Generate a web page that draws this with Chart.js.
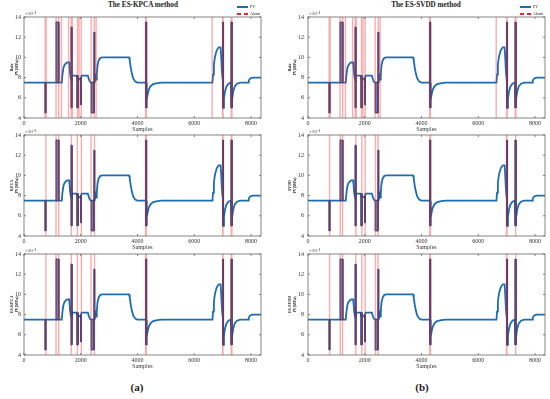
<!DOCTYPE html>
<html>
<head>
<meta charset="utf-8">
<script src="https://cdn.jsdelivr.net/npm/chart.js@4.4.0/dist/chart.umd.min.js"></script>
<style>
  body { margin: 0; background: #fff; }
  #fig { position: relative; width: 550px; height: 399px; overflow: hidden; font-family: "Liberation Serif", serif; color: #222; }
  canvas { position: absolute; }
  .ttl { position: absolute; top: 0; font-size: 7.2px; line-height: 11px; font-weight: bold; transform: translateX(-50%); white-space: nowrap; }
  .sub { position: absolute; top: 380px; font-size: 11px; line-height: 14px; font-weight: bold; transform: translateX(-50%); }
  .lt { position: absolute; font-size: 4px; line-height: 4px; white-space: nowrap; }
  .mk { position: absolute; }
</style>
</head>
<body>
<div id="fig">
  <div class="ttl" style="left:143px">The ES-KPCA method</div>
  <div class="ttl" style="left:426px">The ES-SVDD method</div>
  <div class="sub" style="left:137px">(a)</div>
  <div class="sub" style="left:422px">(b)</div>
</div>
<script>
// PV signal (units of 10^-1 MPa)
const pvX = [0, 1330, 1355, 1385, 1420, 1470, 1520, 1590, 1605, 1625, 1650, 1675, 1700, 1850, 1870, 1920, 1990, 2030,
  2250, 2280, 2320, 2370, 2480, 2520, 2545, 2565, 2590, 2630, 2690, 2760, 3700, 3725, 3760, 3800, 3850, 3920, 3990,
  4300, 4310, 4330, 4360, 4400, 4460, 4550, 4700, 4850, 6640, 6660, 6690, 6730, 6790, 6860, 6925, 6945, 6965, 6990,
  7005, 7020, 7045, 7080, 7130, 7200, 7290, 7310, 7335, 7370, 7420, 7500, 7620, 7900, 7920, 7950, 8000, 8060, 8350];
const pvY = [7.5, 7.5, 8.3, 8.9, 9.2, 9.4, 9.5, 9.5, 9.1, 8.4, 7.9, 7.7, 8.2, 8.2, 7.9, 7.9, 7.8, 8.2,
  8.2, 7.9, 7.6, 7.5, 7.5, 8.1, 7.8, 8.3, 9.2, 9.7, 9.95, 10, 10, 9.7, 9.0, 8.4, 7.9, 7.6, 7.5,
  7.5, 5.0, 5.8, 6.4, 6.85, 7.15, 7.35, 7.45, 7.5, 7.5, 8.3, 9.3, 10.1, 10.7, 11, 11, 10.2, 9.0, 8.0,
  7.8, 5.0, 5.9, 6.6, 7.1, 7.4, 7.5, 5.0, 5.9, 6.6, 7.1, 7.4, 7.5, 7.5, 7.7, 7.85, 7.95, 8, 8];

// fast oscillation bands
const bandX0 = [735, 1128, 1655, 1860, 1995, 2365, 2460, 4280, 6995, 7290];
const bandX1 = [770, 1228, 1690, 1905, 2025, 2470, 2490, 4320, 7030, 7330];
const bandLo = [4.5, 7.5, 5.0, 5.0, 5.3, 4.5, 7.5, 5.0, 5.0, 5.0];
const bandHi = [7.5, 13.5, 13.0, 8.2, 8.0, 7.5, 12.5, 13.5, 13.5, 13.5];

// alarm positions (samples)
const ruleAlarms = [745, 780, 1128, 1222, 1320, 1570, 1662, 1700, 1885, 1940, 2015, 2365, 2475, 2540, 4285, 4310, 6630, 6995, 7015, 7300, 7325];
const kpcaAlarms = [770, 1128, 1222, 1668, 1880, 2021, 2362, 2485, 4285, 4310, 6998, 7012, 7300, 7325];
const svddAlarms = [761, 1136, 1218, 1686, 1897, 2014, 2377, 2470, 4290, 4315, 6990, 7010, 7318];

// axes
const xTicks = [0, 2000, 4000, 6000, 8000];
const yTicks = [4, 6, 8, 10, 12, 14];
const yMin = 4, yMax = 14, xMax = 8350;

const cols = [
  { left: 0, padLeft: 10, axisW: 14, tickPad: 3, padRight: 14, leg: 237 },
  { left: 275, padLeft: 13, axisW: 20, tickPad: 4, padRight: 5, leg: 520 }
];
const rowTops = [17, 135, 254];
const panels = [
  { col: 0, row: 0, name: "Rule", alarms: ruleAlarms },
  { col: 0, row: 1, name: "KPCA", alarms: kpcaAlarms },
  { col: 0, row: 2, name: "ES-KPCA", alarms: kpcaAlarms },
  { col: 1, row: 0, name: "Rule", alarms: ruleAlarms },
  { col: 1, row: 1, name: "SVDD", alarms: svddAlarms },
  { col: 1, row: 2, name: "ES-SVDD", alarms: svddAlarms }
];

const FONT = "Liberation Serif";
const fig = document.getElementById("fig");

// box, inward ticks and exponent
const frame = {
  id: "frame",
  afterDraw(chart) {
    const { ctx, chartArea: a, scales } = chart;
    ctx.save();
    ctx.strokeStyle = "#666";
    ctx.lineWidth = 0.8;
    ctx.strokeRect(a.left, a.top, a.width, a.height);
    ctx.beginPath();
    scales.x.ticks.forEach(t => {
      const px = scales.x.getPixelForValue(t.value);
      ctx.moveTo(px, a.bottom); ctx.lineTo(px, a.bottom - 2);
      ctx.moveTo(px, a.top); ctx.lineTo(px, a.top + 2);
    });
    scales.y.ticks.forEach(t => {
      const py = scales.y.getPixelForValue(t.value);
      ctx.moveTo(a.left, py); ctx.lineTo(a.left + 2, py);
      ctx.moveTo(a.right, py); ctx.lineTo(a.right - 2, py);
    });
    ctx.stroke();
    ctx.fillStyle = "#333";
    ctx.font = "5px '" + FONT + "'";
    ctx.textBaseline = "bottom";
    ctx.fillText("\u00d710\u207b\u00b9", a.left + 1, a.top - 0.5);
    ctx.restore();
  }
};

function bandPoints() {
  const pts = [];
  bandX0.forEach((x0, i) => {
    const x1 = bandX1[i], lo = bandLo[i], hi = bandHi[i];
    pts.push({ x: x0, y: lo }, { x: x0, y: hi }, { x: x1, y: hi }, { x: x1, y: lo }, { x: x0, y: lo }, { x: x1, y: null });
  });
  return pts;
}

function alarmPoints(list) {
  const pts = [];
  list.forEach(a => pts.push({ x: a, y: yMin }, { x: a, y: yMax }, { x: a, y: null }));
  return pts;
}

panels.forEach(p => {
  const c = cols[p.col];
  const cv = document.createElement("canvas");
  cv.width = 275; cv.height = 140;
  cv.style.left = c.left + "px";
  cv.style.top = (rowTops[p.row] - 17) + "px";
  fig.appendChild(cv);

  new Chart(cv, {
    type: "line",
    data: {
      datasets: [
        {
          label: "Alarm",
          data: alarmPoints(p.alarms),
          borderColor: "rgba(240,50,50,0.4)",
          borderWidth: 1.4,
          pointRadius: 0,
          fill: false
        },
        {
          label: "Oscillation",
          data: bandPoints(),
          borderColor: "#2b3f7e",
          backgroundColor: "#7080aa",
          borderWidth: 1,
          pointRadius: 0,
          fill: "shape"
        },
        {
          label: "PV",
          data: pvX.map((x, i) => ({ x: x, y: pvY[i] })),
          borderColor: "#1c6db4",
          borderWidth: 1.8,
          pointRadius: 0,
          fill: false
        }
      ]
    },
    options: {
      responsive: false,
      animation: false,
      events: [],
      devicePixelRatio: 1,
      layout: { padding: { left: c.padLeft, right: c.padRight, top: 17, bottom: 0 } },
      plugins: { legend: { display: false }, tooltip: { enabled: false } },
      scales: {
        x: {
          type: "linear",
          min: 0,
          max: xMax,
          afterFit(s) { s.height = 22; },
          afterBuildTicks(s) { s.ticks = xTicks.map(v => ({ value: v })); },
          ticks: { maxRotation: 0, autoSkip: false, padding: 2, color: "#333", font: { family: FONT, size: 6 },
            callback: v => String(v) },
          grid: { display: false, drawTicks: false },
          border: { display: false },
          title: { display: true, text: "Samples", color: "#333", font: { family: FONT, size: 6 }, padding: { top: 0, bottom: 7 } }
        },
        y: {
          min: yMin,
          max: yMax,
          afterFit(s) { s.width = c.axisW; },
          afterBuildTicks(s) { s.ticks = yTicks.map(v => ({ value: v })); },
          ticks: { padding: c.tickPad, color: "#333", font: { family: FONT, size: 6 }, callback: v => String(v) },
          grid: { display: false, drawTicks: false },
          border: { display: false },
          title: { display: true, text: [p.name, "PV(MPa)"], color: "#222", font: { family: FONT, size: 4, weight: "bold", lineHeight: 1.1 }, padding: 0 }
        }
      }
    },
    plugins: [frame]
  });
});

// legends
cols.forEach(c => {
  const add = (cls, style, text) => {
    const d = document.createElement("div");
    d.className = cls;
    d.style.cssText = style;
    if (text) d.textContent = text;
    fig.appendChild(d);
  };
  add("mk", `left:${c.leg}px;top:6px;width:11px;height:1.6px;background:#1c6db4`);
  add("lt", `left:${c.leg + 13}px;top:5px`, "PV");
  add("mk", `left:${c.leg}px;top:13px;width:4px;height:1.8px;background:#e8262a`);
  add("mk", `left:${c.leg + 7}px;top:13px;width:4px;height:1.8px;background:#e8262a`);
  add("lt", `left:${c.leg + 13}px;top:12px`, "Alarm");
});
</script>
</body>
</html>
